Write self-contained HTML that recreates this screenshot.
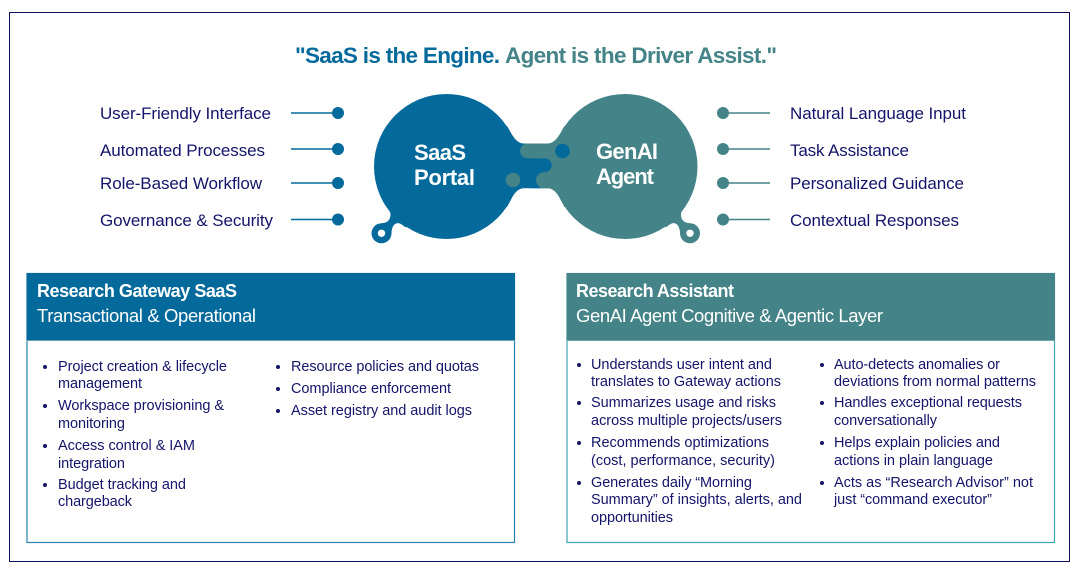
<!DOCTYPE html>
<html><head><meta charset="utf-8">
<style>
html,body{margin:0;padding:0;background:#fff;width:1082px;height:570px;overflow:hidden}
svg{display:block}
text{font-family:"Liberation Sans",sans-serif}
.l{font-size:17px;fill:#14146a}
.b{font-size:14.5px;fill:#14146a}
.h{font-size:18px;font-weight:bold;fill:#fff}
.s{font-size:18.5px;fill:#fff}
.c{font-size:22px;font-weight:bold;fill:#fff}
</style></head><body>
<svg width="1082" height="570" viewBox="0 0 1082 570" xmlns="http://www.w3.org/2000/svg">
<rect x="9.500" y="12.500" width="1060" height="549" fill="#fff" stroke="#0f0f5e" stroke-width="1"/>

<text x="295" y="63" font-size="22.500" font-weight="bold" fill="#04699b" textLength="205">"SaaS is the Engine.</text>
<text x="505" y="63" font-size="22.500" font-weight="bold" fill="#448387" textLength="272">Agent is the Driver Assist."</text>

<!-- left labels -->
<text class="l" x="100" y="119" textLength="171">User-Friendly Interface</text>
<text class="l" x="100" y="156" textLength="165">Automated Processes</text>
<text class="l" x="100" y="189" textLength="162">Role-Based Workflow</text>
<text class="l" x="100" y="226" textLength="173">Governance &amp; Security</text>
<path d="M291 113H338M291 149H338M291 183H338M291 219.500H338" fill="none" stroke="#04699b" stroke-width="1.500"/>
<g fill="#04699b"><circle cx="338" cy="113" r="6"/><circle cx="338" cy="149" r="6"/><circle cx="338" cy="183" r="6"/><circle cx="338" cy="219.500" r="6"/></g>

<!-- right labels -->
<text class="l" x="790" y="119" textLength="176">Natural Language Input</text>
<text class="l" x="790" y="156" textLength="119">Task Assistance</text>
<text class="l" x="790" y="189" textLength="174">Personalized Guidance</text>
<text class="l" x="790" y="226" textLength="169">Contextual Responses</text>
<path d="M723 113H770M723 149H770M723 183H770M723 219.500H770" fill="none" stroke="#448387" stroke-width="1.500"/>
<g fill="#448387"><circle cx="723" cy="113" r="6"/><circle cx="723" cy="149" r="6"/><circle cx="723" cy="183" r="6"/><circle cx="723" cy="219.500" r="6"/></g>

<!-- teal shape -->
<circle cx="625" cy="166.500" r="72.500" fill="#448387"/>
<path fill="#448387" d="M530 143.500H547.500C556.500 143.500 560.500 132 564.500 126L600 166 564.500 207C560.500 200 556.500 188.300 547.500 188.300H530Z"/>
<g transform="translate(1071.500 0) scale(-1 1)">
<path fill="#448387" d="M388 208C391 212 391 216 389.500 219 388 222 385 223 381.500 223.300L381.500 243.300 391.500 233.300C391.500 229 393 224 397 223.200 400 222.600 402 225 406 227.500L420 200Z"/>
<circle cx="381.500" cy="233.300" r="10" fill="#448387"/>
<circle cx="381.500" cy="233.300" r="3.700" fill="#fff"/>
</g>

<!-- blue shape -->
<circle cx="446.500" cy="166.500" r="72.500" fill="#04699b"/>
<path fill="#04699b" d="M507 126C511 132 515 143.500 524 143.500H536V158.300H544.700A7 7 0 0 1 544.700 172.300H544V188.300H524C515 188.300 511 200 507 207L480 166Z"/>
<path fill="#04699b" d="M388 208C391 212 391 216 389.500 219 388 222 385 223 381.500 223.300L381.500 243.300 391.500 233.300C391.500 229 393 224 397 223.200 400 222.600 402 225 406 227.500L420 200Z"/>
<circle cx="381.500" cy="233.300" r="10" fill="#04699b"/>
<circle cx="381.500" cy="233.300" r="3.700" fill="#fff"/>

<!-- interlock -->
<path fill="#448387" d="M527.500 143.500H555V158.300H527.500A7.400 7.400 0 0 1 527.500 143.500Z"/>
<path fill="#448387" d="M544 172.300H560V188.300H544A8 8 0 0 1 544 172.300Z"/>
<circle cx="562.500" cy="151" r="7.300" fill="#04699b"/>
<circle cx="513" cy="180" r="7.300" fill="#448387"/>

<text class="c" x="414" y="160" textLength="52">SaaS</text>
<text class="c" x="414" y="185" textLength="61">Portal</text>
<text class="c" x="596" y="159" textLength="62">GenAI</text>
<text class="c" x="596" y="184" textLength="58">Agent</text>

<!-- left panel -->
<rect x="27" y="273.500" width="487.500" height="269" fill="#fff" stroke="#2a82b3" stroke-width="1.200"/>
<rect x="26.500" y="273" width="488.500" height="67" fill="#04699b"/>
<rect x="26.500" y="340" width="488.500" height="1" fill="#6f9fa8"/>
<text class="h" x="37" y="297" textLength="200">Research Gateway SaaS</text>
<text class="s" x="37" y="322" textLength="219">Transactional &amp; Operational</text>
<g fill="#14146a">
<circle cx="45" cy="367" r="2"/><circle cx="45" cy="406" r="2"/><circle cx="45" cy="446" r="2"/><circle cx="45" cy="485" r="2"/>
<circle cx="278" cy="367" r="2"/><circle cx="278" cy="389" r="2"/><circle cx="278" cy="411" r="2"/>
</g>
<text class="b" x="58" y="371" textLength="169">Project creation &amp; lifecycle</text>
<text class="b" x="58" y="388" textLength="84">management</text>
<text class="b" x="58" y="410" textLength="166">Workspace provisioning &amp;</text>
<text class="b" x="58" y="428" textLength="67">monitoring</text>
<text class="b" x="58" y="450" textLength="137">Access control &amp; IAM</text>
<text class="b" x="58" y="468" textLength="67">integration</text>
<text class="b" x="58" y="489" textLength="128">Budget tracking and</text>
<text class="b" x="58" y="506" textLength="74">chargeback</text>
<text class="b" x="291" y="371" textLength="188">Resource policies and quotas</text>
<text class="b" x="291" y="393" textLength="160">Compliance enforcement</text>
<text class="b" x="291" y="415" textLength="181">Asset registry and audit logs</text>

<!-- right panel -->
<rect x="567" y="273.500" width="487.500" height="269" fill="#fff" stroke="#3fa6b6" stroke-width="1.200"/>
<rect x="566.500" y="273" width="488.500" height="67" fill="#448387"/>
<rect x="566.500" y="340" width="488.500" height="1" fill="#6fa3a8"/>
<text class="h" x="576" y="297" textLength="158">Research Assistant</text>
<text class="s" x="576" y="322" textLength="307">GenAI Agent Cognitive &amp; Agentic Layer</text>
<g fill="#14146a">
<circle cx="579" cy="365" r="2"/><circle cx="579" cy="403" r="2"/><circle cx="579" cy="443" r="2"/><circle cx="579" cy="483" r="2"/>
<circle cx="822" cy="365" r="2"/><circle cx="822" cy="403" r="2"/><circle cx="822" cy="443" r="2"/><circle cx="822" cy="483" r="2"/>
</g>
<text class="b" x="591" y="369" textLength="181">Understands user intent and</text>
<text class="b" x="591" y="386" textLength="190">translates to Gateway actions</text>
<text class="b" x="591" y="407" textLength="185">Summarizes usage and risks</text>
<text class="b" x="591" y="425" textLength="191">across multiple projects/users</text>
<text class="b" x="591" y="447" textLength="178">Recommends optimizations</text>
<text class="b" x="591" y="465" textLength="184">(cost, performance, security)</text>
<text class="b" x="591" y="487" textLength="161">Generates daily “Morning</text>
<text class="b" x="591" y="504" textLength="211">Summary” of insights, alerts, and</text>
<text class="b" x="591" y="522" textLength="82">opportunities</text>
<text class="b" x="834" y="369" textLength="166">Auto-detects anomalies or</text>
<text class="b" x="834" y="386" textLength="202">deviations from normal patterns</text>
<text class="b" x="834" y="407" textLength="188">Handles exceptional requests</text>
<text class="b" x="834" y="425" textLength="103">conversationally</text>
<text class="b" x="834" y="447" textLength="166">Helps explain policies and</text>
<text class="b" x="834" y="465" textLength="159">actions in plain language</text>
<text class="b" x="834" y="487" textLength="199">Acts as “Research Advisor” not</text>
<text class="b" x="834" y="504" textLength="158">just “command executor”</text>
</svg>
</body></html>
